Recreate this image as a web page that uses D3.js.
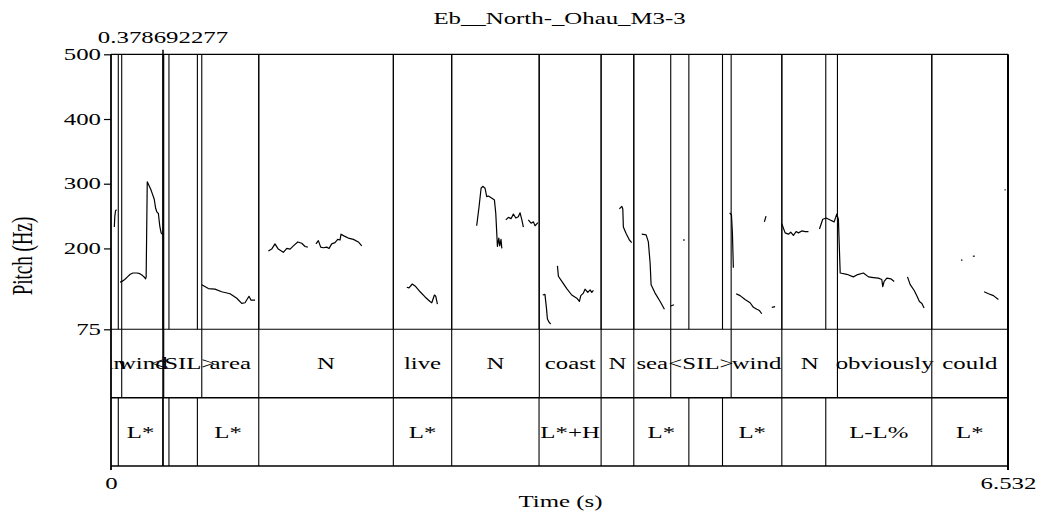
<!DOCTYPE html>
<html>
<head>
<meta charset="utf-8">
<script src="https://cdn.jsdelivr.net/npm/d3@7"></script>
<style>
  html, body { margin: 0; padding: 0; background: #fff; }
  svg { display: block; }
  text { font-family: "Liberation Serif", "Times New Roman", serif; fill: #000; }
</style>
</head>
<body>
<svg id="chart" width="1041" height="516"></svg>
<script>
// ---- data ----
const title = "Eb__North-_Ohau_M3-3";
const totalDuration = 6.532;
const cursorTime = 0.378692277;
const cursorLabel = "0.378692277";
const pitchRange = [75, 500];
const pitchTicks = [75, 200, 300, 400, 500];
const timeTicks = [0, 6.532];
const timeTickLabels = ["0", "6.532"];

const wordBoundaries = [0.078, 0.384, 0.661, 1.076, 2.056, 2.481, 3.119, 3.569, 3.807, 4.076, 4.516, 4.885, 5.290, 5.977];
const wordLabels = ["in", "wind", "<SIL>", "area", "N", "live", "N", "coast", "N", "sea", "<SIL>", "wind", "N", "obviously", "could"];

const toneBoundaries = [0.053, 0.378, 0.422, 0.629, 1.076, 2.056, 2.481, 3.117, 3.569, 3.807, 4.208, 4.453, 4.885, 5.205, 5.977];
const toneLabels = ["", "L*", "", "", "L*", "", "L*", "", "L*+H", "", "L*", "", "L*", "", "L-L%", "L*"];

// pitch contour pieces: [time (s), pitch (Hz)]
const seg1 = [[0.024,233],[0.028,250],[0.033,258],[0.040,260]];
const seg2 = [[0.066,148],[0.08,149],[0.10,152],[0.12,156],[0.14,160],[0.16,162],[0.19,162],[0.21,161],[0.23,158],[0.245,155],[0.252,153],[0.256,156],[0.264,303],[0.275,298],[0.29,291],[0.30,285],[0.315,276],[0.325,262],[0.335,256],[0.345,254],[0.355,235],[0.365,224],[0.378,221]];
const seg3 = [[0.661,144],[0.709,138],[0.757,137],[0.806,133],[0.867,130],[0.916,123],[0.952,115],[0.976,116],[0.996,123],[1.005,126],[1.020,120],[1.049,120]];
const seg4 = [[1.146,196],[1.170,199],[1.194,207],[1.218,199],[1.255,194],[1.280,200],[1.304,199],[1.328,204],[1.360,210],[1.389,208],[1.413,203],[1.433,202]];
const seg5 = [[1.493,207],[1.510,212],[1.527,202],[1.546,201],[1.571,202],[1.588,200],[1.607,207],[1.631,209],[1.651,214],[1.668,213],[1.675,222],[1.699,219],[1.728,216],[1.765,214],[1.801,210],[1.826,204]];
const seg6 = [[2.154,140],[2.170,139],[2.194,145],[2.219,141],[2.251,133],[2.287,125],[2.323,118],[2.336,116],[2.355,128],[2.365,126],[2.377,114]];
const seg7 = [[2.663,235],[2.680,264],[2.695,293],[2.707,296],[2.724,293],[2.736,280],[2.748,281],[2.777,277],[2.792,275],[2.802,254],[2.814,203],[2.824,216],[2.831,204],[2.840,214],[2.846,200]];
const seg8 = [[2.875,244],[2.894,248],[2.913,246],[2.930,253],[2.948,247],[2.966,249],[2.979,255],[2.991,245],[3.003,233]];
const seg9 = [[3.039,244],[3.059,239],[3.076,241],[3.088,235],[3.108,240]];
const seg10 = [[3.144,128],[3.160,129],[3.170,110],[3.178,91],[3.190,86],[3.202,83]];
const seg11 = [[3.251,173],[3.258,157],[3.283,149],[3.319,138],[3.355,128],[3.392,123],[3.411,118],[3.421,127],[3.440,131],[3.452,137],[3.472,132],[3.489,136],[3.501,132],[3.513,135]];
const seg12 = [[3.702,261],[3.720,265],[3.727,261],[3.731,233],[3.751,223],[3.775,213],[3.792,209]];
const seg13 = [[3.865,222],[3.897,221],[3.913,210],[3.926,177],[3.933,144],[3.962,131],[3.999,118],[4.030,106]];
const seg14 = [[4.076,111],[4.100,113]];
const seg15 = [[4.165,213],[4.178,213]];
const seg16 = [[4.505,255],[4.518,252],[4.525,225],[4.532,170]];
const seg17 = [[4.552,130],[4.581,127],[4.617,121],[4.654,116],[4.678,109],[4.703,106],[4.722,104],[4.739,99]];
const seg18 = [[4.758,241],[4.770,250]];
const seg19 = [[4.812,109],[4.836,110]];
const seg20 = [[4.885,238],[4.909,224],[4.933,222],[4.950,225],[4.969,220],[4.989,226],[5.006,224],[5.030,227],[5.055,226],[5.079,226]];
const seg21 = [[5.159,230],[5.183,245],[5.208,247],[5.237,244],[5.266,241],[5.285,253],[5.297,245],[5.310,162],[5.358,160],[5.406,156],[5.431,159],[5.479,162],[5.516,156],[5.552,155],[5.588,154],[5.613,152],[5.620,141],[5.630,149],[5.650,154],[5.679,153],[5.703,149]];
const seg22 = [[5.800,156],[5.820,144],[5.849,135],[5.868,127],[5.887,118],[5.905,115],[5.921,108]];
const seg23 = [[6.190,182],[6.200,182]];
const seg24 = [[6.276,188],[6.290,188]];
const seg25 = [[6.358,133],[6.390,130],[6.426,127],[6.462,121]];
const seg26 = [[6.508,291],[6.514,290]];
const pitchSegments = [seg1, seg2, seg3, seg4, seg5, seg6, seg7, seg8, seg9, seg10, seg11, seg12, seg13,
  seg14, seg15, seg16, seg17, seg18, seg19, seg20, seg21, seg22, seg23, seg24, seg25, seg26];

// ---- layout ----
const left = 111, right = 1008;
const pitchTop = 54.3, pitchBottom = 329.3;
const wordBottom = 397.7, toneBottom = 466;
const SX = 1.46; // horizontal stretch of glyphs
const FS = 17;

const svg = d3.select("#chart");
const x = d3.scaleLinear().domain([0, totalDuration]).range([left, right]);
const y = d3.scaleLinear().domain(pitchRange).range([pitchBottom, pitchTop]);

function stretchedText(g, tx, ty, str, anchor, size) {
  return g.append("text")
    .attr("transform", `translate(${tx},${ty}) scale(${SX},1)`)
    .attr("text-anchor", anchor || "middle")
    .attr("font-size", (size || FS) + "px")
    .text(str);
}

// clip for tier texts
svg.append("defs").append("clipPath").attr("id", "plotclip")
  .append("rect").attr("x", left).attr("y", pitchTop).attr("width", 1041 - left).attr("height", toneBottom - pitchTop);

// boundary lines through pitch area and their own tier
const lineG = svg.append("g").attr("stroke", "#000").attr("stroke-width", 1.1);
function drawTier(bounds, labels, yTop, yBot) {
  bounds.forEach(b => {
    lineG.append("line").attr("x1", x(b)).attr("x2", x(b)).attr("y1", pitchTop).attr("y2", pitchBottom);
    lineG.append("line").attr("x1", x(b)).attr("x2", x(b)).attr("y1", yTop).attr("y2", yBot);
  });
  const edges = [0, ...bounds, totalDuration];
  const tg = svg.append("g").attr("clip-path", "url(#plotclip)");
  labels.forEach((lab, i) => {
    if (!lab) return;
    const cx = (x(edges[i]) + x(edges[i + 1])) / 2;
    stretchedText(tg, cx, (yTop + yBot) / 2 + 5.8, lab, "middle");
  });
}
drawTier(wordBoundaries, wordLabels, pitchBottom, wordBottom);
drawTier(toneBoundaries, toneLabels, wordBottom, toneBottom);

// cursor
lineG.append("line").attr("x1", x(cursorTime)).attr("x2", x(cursorTime))
  .attr("y1", pitchTop - 4.5).attr("y2", toneBottom).attr("stroke-width", 1.5);
stretchedText(svg, x(cursorTime), 42.7, cursorLabel, "middle");

// frame
const frame = svg.append("g").attr("stroke", "#000").attr("fill", "none");
frame.append("line").attr("x1", left).attr("x2", right).attr("y1", pitchTop).attr("y2", pitchTop).attr("stroke-width", 1.2);
frame.append("line").attr("x1", left).attr("x2", right).attr("y1", pitchBottom).attr("y2", pitchBottom).attr("stroke-width", 1.1);
frame.append("line").attr("x1", left).attr("x2", right).attr("y1", wordBottom).attr("y2", wordBottom).attr("stroke-width", 1.4);
frame.append("line").attr("x1", left).attr("x2", right).attr("y1", toneBottom).attr("y2", toneBottom).attr("stroke-width", 1.6);
frame.append("line").attr("x1", right).attr("x2", right).attr("y1", pitchTop).attr("y2", toneBottom + 4).attr("stroke-width", 2);
frame.append("line").attr("x1", left).attr("x2", left).attr("y1", pitchTop).attr("y2", toneBottom + 4).attr("stroke-width", 1.8);

// pitch contours
const line = d3.line().x(d => x(d[0])).y(d => y(d[1]));
svg.append("g").selectAll("path").data(pitchSegments).join("path")
  .attr("d", line).attr("fill", "none").attr("stroke", "#000").attr("stroke-width", 1.2)
  .attr("stroke-linejoin", "round");

// y axis
const yAxis = svg.append("g").attr("transform", `translate(${left},0)`)
  .call(d3.axisLeft(y).tickValues(pitchTicks).tickSize(7).tickPadding(3).tickFormat(d3.format("d")));
yAxis.select(".domain").remove();
yAxis.selectAll(".tick line").attr("stroke", "#000").attr("stroke-width", 1.2);
yAxis.selectAll(".tick text")
  .attr("x", null).attr("dy", null)
  .attr("transform", `translate(-10,5.2) scale(${SX},1)`)
  .attr("font-size", FS + "px").attr("font-family", null).attr("fill", "#000");

// x axis
const xAxis = svg.append("g").attr("transform", `translate(0,${toneBottom})`)
  .call(d3.axisBottom(x).tickValues(timeTicks).tickSize(0).tickPadding(0)
    .tickFormat((d, i) => timeTickLabels[i]));
xAxis.select(".domain").remove();
xAxis.selectAll(".tick text")
  .attr("y", null).attr("dy", null)
  .attr("transform", `translate(0,22.5) scale(${SX},1)`)
  .attr("font-size", FS + "px").attr("font-family", null).attr("fill", "#000");

// titles
stretchedText(svg, (left + right) / 2, 24, title, "middle");
stretchedText(svg, (left + right) / 2 + 1, 507, "Time (s)", "middle");
svg.append("text")
  .attr("transform", `translate(31.5,256) scale(1.5,1) rotate(-90)`)
  .attr("text-anchor", "middle").attr("font-size", "19px")
  .text("Pitch (Hz)");
</script>
</body>
</html>
